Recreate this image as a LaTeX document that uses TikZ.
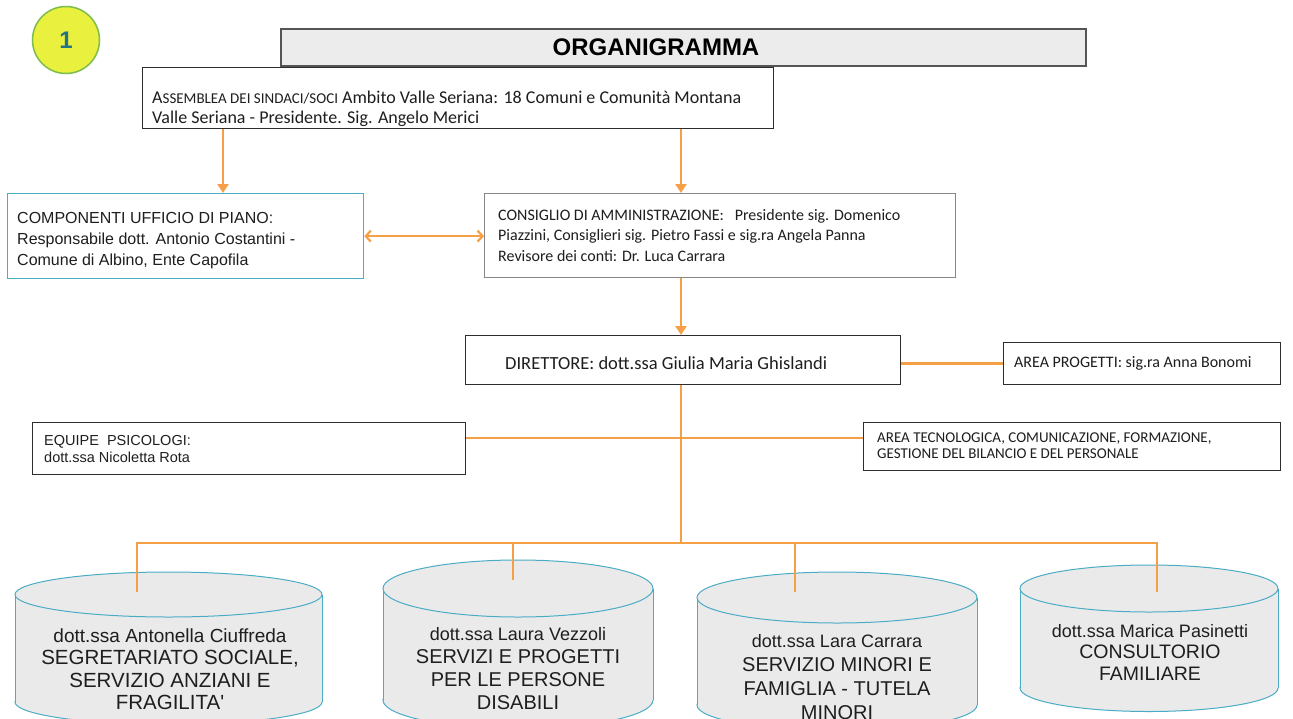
\documentclass[tikz,border=0pt]{standalone}
\usepackage{fontspec}
\setmainfont{Liberation Sans}
\newfontfamily\calib{Carlito}
\newfontfamily\arial{Liberation Sans}
\usetikzlibrary{arrows.meta}
\definecolor{org}{RGB}{245,160,70}
\definecolor{tealc}{RGB}{75,172,198}
\definecolor{cylf}{RGB}{234,234,234}
\definecolor{boxc}{RGB}{45,45,45}
\definecolor{greyc}{RGB}{135,135,135}
\definecolor{txtc}{RGB}{30,30,30}
\definecolor{titf}{RGB}{236,236,236}
\definecolor{titd}{RGB}{85,85,85}
\definecolor{circf}{RGB}{234,240,62}
\definecolor{circd}{RGB}{125,190,75}
\definecolor{onec}{RGB}{35,115,135}
\newcommand\lh{\rule{0pt}{1em}}
\newcommand\mycyl[5]{%
  \filldraw[cylst] (#1,#5) ellipse [x radius=#2, y radius=#4];
  \fill[cylf] ({#1-#2},#3) rectangle ({#1+#2},#5);
  \draw[cylst] ({#1-#2},#3) -- ({#1-#2},#5) ({#1+#2},#3) -- ({#1+#2},#5);
  \filldraw[cylst] (#1,#3) ellipse [x radius=#2, y radius=#4];}
\begin{document}
\begin{tikzpicture}[x=1pt,y=-1pt,
  bx/.style={draw=boxc, line width=1.3pt, fill=white, inner sep=0pt, anchor=north west},
  tx/.style={inner sep=0pt, align=left, text=txtc, anchor=north west},
  ctx/.style={inner sep=0pt, align=center, text=txtc, anchor=north},
  ln/.style={draw=org, line width=2.6pt},
  arr/.style={ln, -{Triangle[length=9pt,width=11pt]}},
  dbl/.style={draw=org, line width=2.2pt, {Straight Barb[length=5pt,width=11pt]}-{Straight Barb[length=5pt,width=11pt]}},
  cylst/.style={draw=tealc, line width=1pt, fill=cylf}]
\useasboundingbox (0,0) rectangle (1293,718);
\fill[white] (0,0) rectangle (1293,718);

% badge
\node[circle, draw=circd, line width=1.5pt, fill=circf, minimum size=67pt, inner sep=0pt,
  text=onec, font=\arial\bfseries\fontsize{24}{24}\selectfont] (one) at (66,40) {1};

% title
\node[bx, draw=titd, line width=2pt, fill=titf, minimum width=805pt, minimum height=37pt] (title) at (280,28) {};
\node[inner sep=0pt, font=\arial\bfseries\fontsize{24}{24}\selectfont, text=black] (titleT) at (656,47) {ORGANIGRAMMA};

% assemblea
\node[bx, minimum width=631pt, minimum height=61pt] (ass) at (142,67) {};
\node[tx, font=\calib\fontsize{18}{20}\selectfont] (assT) at (152,85)
 {\lh A{\fontsize{15}{20}\selectfont SSEMBLEA DEI SINDACI/SOCI} Ambito Valle Seriana: 18 Comuni e Comunità Montana\\
  Valle Seriana - Presidente. Sig. Angelo Merici};

% componenti
\node[bx, draw=tealc, minimum width=356pt, minimum height=85pt] (comp) at (7,193) {};
\node[tx, font=\arial\fontsize{16}{21}\selectfont] (compT) at (17,207)
 {\lh COMPONENTI UFFICIO DI PIANO:\\ Responsabile dott. Antonio Costantini -\\ Comune di Albino, Ente Capofila};

% consiglio
\node[bx, draw=greyc, minimum width=471pt, minimum height=84pt] (cons) at (484,193) {};
\node[tx, font=\calib\fontsize{16}{20.5}\selectfont] (consT) at (498,204)
 {\lh CONSIGLIO DI AMMINISTRAZIONE:\ \ \ Presidente sig. Domenico\\ Piazzini, Consiglieri sig. Pietro Fassi e sig.ra Angela Panna\\ Revisore dei conti: Dr. Luca Carrara};

% direttore
\node[bx, minimum width=435pt, minimum height=49pt] (dir) at (465,335) {};
\node[tx, font=\calib\fontsize{18.5}{20}\selectfont] (dirT) at (505,350.5)
 {\lh DIRETTORE: dott.ssa Giulia Maria Ghislandi};

% area progetti
\node[bx, minimum width=277pt, minimum height=42pt] (proj) at (1003,342) {};
\node[tx, font=\calib\fontsize{16}{20}\selectfont] (projT) at (1014,351.3)
 {\lh AREA PROGETTI: sig.ra Anna Bonomi};

% equipe
\node[bx, minimum width=433pt, minimum height=52pt] (equ) at (32,422) {};
\node[tx, font=\arial\fontsize{14.5}{16.5}\selectfont] (equT) at (44,431)
 {\lh EQUIPE\ \ PSICOLOGI:\\ dott.ssa Nicoletta Rota};

% area tecnologica
\node[bx, minimum width=417pt, minimum height=48pt] (tec) at (863,422) {};
\node[tx, font=\calib\fontsize{15}{16}\selectfont] (tecT) at (877,427)
 {\lh AREA TECNOLOGICA, COMUNICAZIONE, FORMAZIONE,\\ GESTIONE DEL BILANCIO E DEL PERSONALE};

% connector helper coordinates
\coordinate (ca) at (223,0);
\coordinate (cx) at (681,0);
\coordinate (bus) at (0,543);
\coordinate (hl) at (0,438);

% cylinders
\begin{scope}
\clip (0,0) rectangle (1293,718);
\mycyl{168.5}{153.5}{594.5}{22.5}{702}
\mycyl{518}{135}{588.5}{28.5}{700}
\mycyl{837}{140}{597.5}{25.5}{705}
\mycyl{1149}{129}{588.5}{23.5}{688}
\node[ctx, font=\arial\fontsize{20.5}{22.5}\selectfont] (c1) at (170,623)
 {{\fontsize{19}{22.5}\selectfont\lh dott.ssa Antonella Ciuffreda}\\ SEGRETARIATO SOCIALE,\\ SERVIZIO ANZIANI E\\ FRAGILITA'};
\node[ctx, font=\arial\fontsize{20}{23}\selectfont] (c2) at (518,622)
 {{\fontsize{18}{23}\selectfont\lh dott.ssa Laura Vezzoli}\\ SERVIZI E PROGETTI\\ PER LE PERSONE\\ DISABILI};
\node[ctx, font=\arial\fontsize{20}{24}\selectfont] (c3) at (837,629)
 {{\fontsize{18}{24}\selectfont\lh dott.ssa Lara Carrara}\\ SERVIZIO MINORI E\\ FAMIGLIA - TUTELA\\ MINORI};
\node[ctx, font=\arial\fontsize{19.5}{21.5}\selectfont] (c4) at (1150,619)
 {{\fontsize{18}{21.5}\selectfont\lh dott.ssa Marica Pasinetti}\\ CONSULTORIO\\ FAMILIARE};
\end{scope}

\coordinate (k1) at (137,592);
\coordinate (k2) at (513,580);
\coordinate (k3) at (795,592);
\coordinate (k4) at (1157,592);

% connectors
\draw[arr] (ass.south -| ca) -- (comp.north -| ca);
\draw[arr] (ass.south -| cx) -- (cons.north -| cx);
\draw[arr] (cons.south -| cx) -- (dir.north -| cx);
\draw[dbl] (comp.east) -- (comp.east -| cons.west);
\draw[ln] (proj.west -| dir.east) -- (proj.west);
\draw[ln] (equ.east |- hl) -- (tec.west |- hl);
\draw[ln] (dir.south -| cx) -- (bus -| cx);
\draw[ln] (k1) -- (k1 |- bus) -- (k4 |- bus) -- (k4);
\draw[ln] (k2 |- bus) -- (k2);
\draw[ln] (k3 |- bus) -- (k3);
\end{tikzpicture}
\end{document}
